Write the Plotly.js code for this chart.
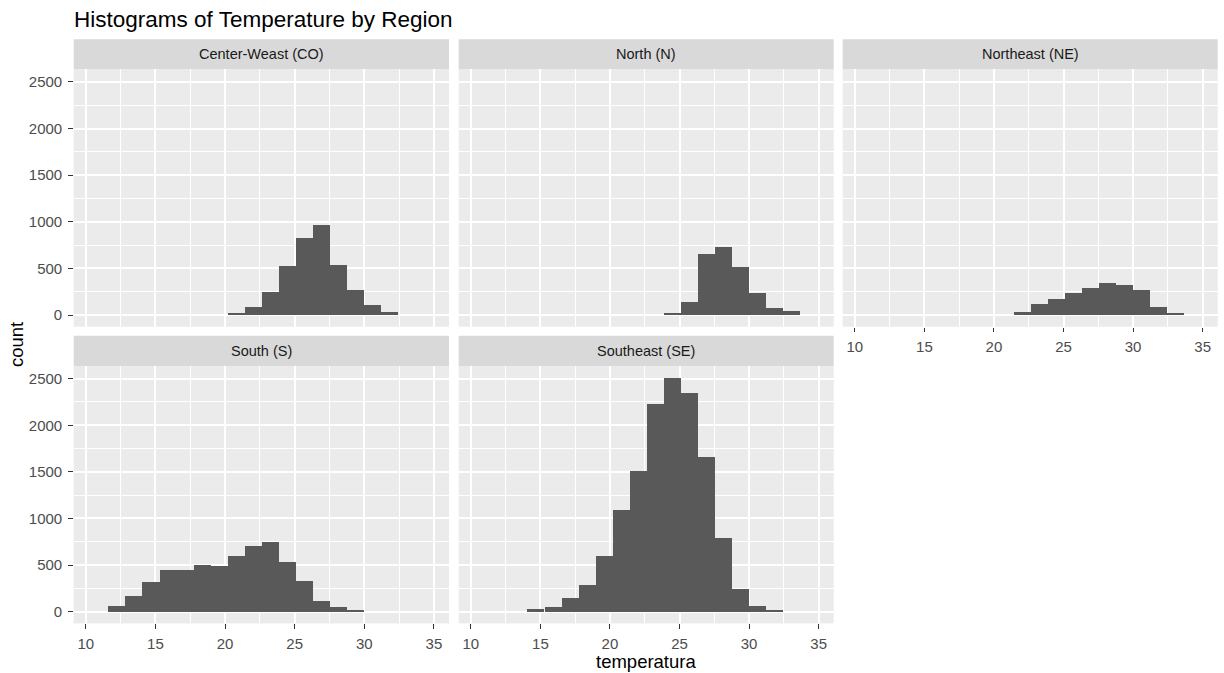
<!DOCTYPE html>
<html>
<head>
<meta charset="utf-8">
<script src="https://cdn.plot.ly/plotly-3.0.1.min.js"></script>
<style>html,body{margin:0;padding:0;background:#fff;}#chart{width:1224px;height:673px;}</style>
</head>
<body>
<div id="chart"></div>
<script>
// ---- data ----
const regions = ["Center-Weast (CO)", "North (N)", "Northeast (NE)", "South (S)", "Southeast (SE)"];
const binWidth = 1.225;

const coTemp  = [20.79, 22.01, 23.24, 24.46, 25.69, 26.91, 28.14, 29.36, 30.59, 31.81];
const coCount = [15, 86, 246, 521, 818, 957, 532, 264, 100, 29];

const nTemp  = [24.46, 25.69, 26.91, 28.14, 29.36, 30.59, 31.81, 33.04];
const nCount = [15, 139, 653, 722, 507, 236, 72, 43];

const neTemp  = [22.01, 23.24, 24.46, 25.69, 26.91, 28.14, 29.36, 30.59, 31.81, 33.04];
const neCount = [32, 111, 165, 236, 289, 343, 318, 261, 86, 18];

const sTemp  = [12.21, 13.44, 14.66, 15.89, 17.11, 18.34, 19.56, 20.79, 22.01, 23.24, 24.46, 25.69, 26.91, 28.14, 29.36];
const sCount = [60, 166, 315, 447, 447, 503, 489, 596, 705, 745, 532, 330, 117, 46, 21];

const seTemp  = [14.66, 15.89, 17.11, 18.34, 19.56, 20.79, 22.01, 23.24, 24.46, 25.69, 26.91, 28.14, 29.36, 30.59, 31.81];
const seCount = [30, 50, 142, 287, 596, 1092, 1504, 2230, 2510, 2351, 1663, 787, 248, 60, 21];

const xTicks = [10, 15, 20, 25, 30, 35];
const yTicks = [0, 500, 1000, 1500, 2000, 2500];

// ---- layout geometry ----
const W = 1224, H = 673;
const colPx = [[73.7, 449.0], [458.7, 833.7], [842.7, 1217.7]];
const rowPx = [[69.3, 326.7], [366.0, 623.4]];      // plot areas (top, bottom) in px
const stripPx = [[39.3, 69.3], [335.7, 366.0]];
const px2x = v => v / W;
const px2y = v => 1 - v / H;

const series = [
  {name: regions[0], x: coTemp, y: coCount, col: 0, row: 0},
  {name: regions[1], x: nTemp,  y: nCount,  col: 1, row: 0},
  {name: regions[2], x: neTemp, y: neCount, col: 2, row: 0},
  {name: regions[3], x: sTemp,  y: sCount,  col: 0, row: 1},
  {name: regions[4], x: seTemp, y: seCount, col: 1, row: 1}
];

const FONT = "Liberation Sans, Arial, sans-serif";
const traces = [];
const layout = {
  width: W, height: H,
  margin: {l: 0, r: 0, t: 0, b: 0},
  paper_bgcolor: "#FFFFFF",
  plot_bgcolor: "#EBEBEB",
  showlegend: false,
  bargap: 0,
  font: {family: FONT, color: "#4D4D4D", size: 15},
  title: {text: "Histograms of Temperature by Region", x: 74 / W, xanchor: "left",
          y: 1 - 19 / H, yanchor: "middle", font: {family: FONT, size: 22.5, color: "#000000"}},
  shapes: [], annotations: []
};

series.forEach((s, i) => {
  const n = i === 0 ? "" : String(i + 1);
  traces.push({
    type: "bar", x: s.x, y: s.y, width: s.x.map(() => binWidth),
    xaxis: "x" + n, yaxis: "y" + n,
    marker: {color: "#595959", line: {width: 0}},
    hoverinfo: "x+y", name: s.name
  });
  const showX = (s.row === 1) || (s.col === 2);
  const showY = (s.col === 0);
  layout["xaxis" + n] = {
    domain: [px2x(colPx[s.col][0]), px2x(colPx[s.col][1])],
    anchor: "y" + n, range: [9.13, 36.08],
    tickmode: "array", tickvals: xTicks, ticktext: xTicks.map(String),
    showticklabels: showX, ticks: showX ? "outside" : "", ticklen: 4.5, tickwidth: 1.1, tickcolor: "#333333",
    showgrid: true, gridcolor: "#FFFFFF", gridwidth: 1.5, zeroline: false, showline: false,
    minor: {dtick: 2.5, tick0: 0, showgrid: true, gridcolor: "#FFFFFF", gridwidth: 0.8, ticks: ""},
    tickfont: {family: FONT, size: 15, color: "#4D4D4D"}, ticklabelstandoff: 2, fixedrange: true
  };
  layout["yaxis" + n] = {
    domain: [px2y(rowPx[s.row][1]), px2y(rowPx[s.row][0])],
    anchor: "x" + n, range: [-125.5, 2635.5],
    tickmode: "array", tickvals: yTicks, ticktext: yTicks.map(String),
    showticklabels: showY, ticks: showY ? "outside" : "", ticklen: 4.5, tickwidth: 1.1, tickcolor: "#333333",
    showgrid: true, gridcolor: "#FFFFFF", gridwidth: 1.5, zeroline: false, showline: false,
    minor: {dtick: 250, tick0: 0, showgrid: true, gridcolor: "#FFFFFF", gridwidth: 0.8, ticks: ""},
    tickfont: {family: FONT, size: 15, color: "#4D4D4D"}, ticklabelstandoff: 3, fixedrange: true
  };
  // facet strip
  layout.shapes.push({
    type: "rect", xref: "paper", yref: "paper", layer: "below",
    x0: px2x(colPx[s.col][0]), x1: px2x(colPx[s.col][1]),
    y0: px2y(stripPx[s.row][1]), y1: px2y(stripPx[s.row][0]),
    fillcolor: "#D9D9D9", line: {width: 0}
  });
  layout.annotations.push({
    xref: "paper", yref: "paper", showarrow: false,
    x: px2x((colPx[s.col][0] + colPx[s.col][1]) / 2),
    y: px2y((stripPx[s.row][0] + stripPx[s.row][1]) / 2),
    xanchor: "center", yanchor: "middle",
    text: s.name, font: {family: FONT, size: 14.5, color: "#1A1A1A"}
  });
});

// axis titles
layout.annotations.push({
  xref: "paper", yref: "paper", showarrow: false,
  x: px2x(645.7), y: px2y(661), xanchor: "center", yanchor: "middle",
  text: "temperatura", font: {family: FONT, size: 18.5, color: "#000000"}
});
layout.annotations.push({
  xref: "paper", yref: "paper", showarrow: false, textangle: -90,
  x: px2x(16.5), y: px2y(344.5), xanchor: "center", yanchor: "middle",
  text: "count", font: {family: FONT, size: 18.5, color: "#000000"}
});

Plotly.newPlot("chart", traces, layout, {displayModeBar: false, responsive: false});
</script>
</body>
</html>
